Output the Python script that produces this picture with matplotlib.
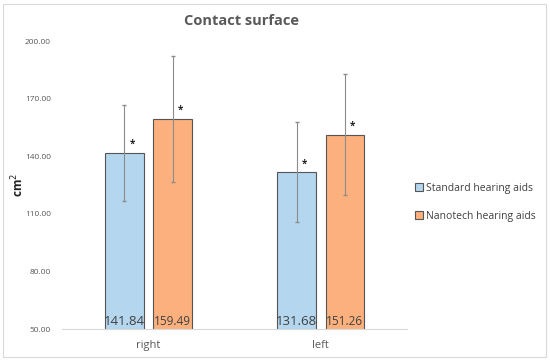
import numpy as np
import matplotlib

matplotlib.use("Agg")
import matplotlib.pyplot as plt
from matplotlib.patches import Rectangle

categories = ["right", "left"]
series = ["Standard hearing aids", "Nanotech hearing aids"]
standard = [141.84, 131.68]
nanotech = [159.49, 151.26]
standard_err = [25.0, 26.0]
nanotech_err = [33.0, 31.5]
yticks = [50, 80, 110, 140, 170, 200]

plt.rcParams["font.family"] = ["Open Sans", "DejaVu Sans"]

fig = plt.figure(figsize=(5.5, 3.64), dpi=100)
ax = fig.add_axes([0.113, 0.096, 0.627, 0.791])

x = np.arange(len(categories))
w = 0.225
off = 0.14
cols = ["#B4D6EE", "#FBB07E"]
ax.bar(x - off, standard, w, color=cols[0], edgecolor="#555555",
       linewidth=0.8, label=series[0], zorder=2)
ax.bar(x + off, nanotech, w, color=cols[1], edgecolor="#555555",
       linewidth=0.8, label=series[1], zorder=2)
ax.errorbar(x - off, standard, yerr=standard_err, fmt="none", ecolor="#8c8c8c",
            elinewidth=0.8, capsize=1.5, zorder=3)
ax.errorbar(x + off, nanotech, yerr=nanotech_err, fmt="none", ecolor="#8c8c8c",
            elinewidth=0.8, capsize=1.5, zorder=3)

for xs, vals, fs in [(x - off, standard, 9.5), (x + off, nanotech, 8.5)]:
    for xi, v in zip(xs, vals):
        ax.text(xi, 50.5, f"{v:.2f}", ha="center", va="bottom", fontsize=fs,
                color="#404040", zorder=4)
        ax.text(xi + 0.045, v + 1.5, "*", ha="center", va="bottom", fontsize=7,
                color="#222222", fontweight="bold", zorder=4)

ax.set_ylim(50, 200)
ax.set_xlim(-0.5, 1.5)
ax.set_yticks(yticks)
ax.set_yticklabels([f"{t:.2f}" for t in yticks], fontsize=6, color="#595959")
ax.set_xticks(x)
ax.set_xticklabels(categories, fontsize=8, color="#595959")
ax.tick_params(length=0, pad=8)
for s in ["top", "right", "left"]:
    ax.spines[s].set_visible(False)
ax.spines["bottom"].set_color("#d9d9d9")

fig.text(18 / 550, 1 - 185 / 364, "cm$^2$", rotation=90, ha="center", va="center",
         fontsize=8.5, fontweight="bold", color="#222222")

fig.text(242 / 550, 1 - 21 / 364, "Contact surface", ha="center", va="center",
         fontsize=10.5, fontweight="bold", color="#595959")

ax.legend(loc="center left", bbox_to_anchor=(0.995, 0.44), frameon=False,
          fontsize=7.5, handlelength=0.8, handleheight=0.8, handletextpad=0.3,
          labelspacing=1.6, labelcolor="#404040")

fig.patches.append(Rectangle((0.006, 0.02), 0.987, 0.97, transform=fig.transFigure,
                             fill=False, edgecolor="#d9d9d9", linewidth=0.8))

fig.savefig("out.png", dpi=100)
